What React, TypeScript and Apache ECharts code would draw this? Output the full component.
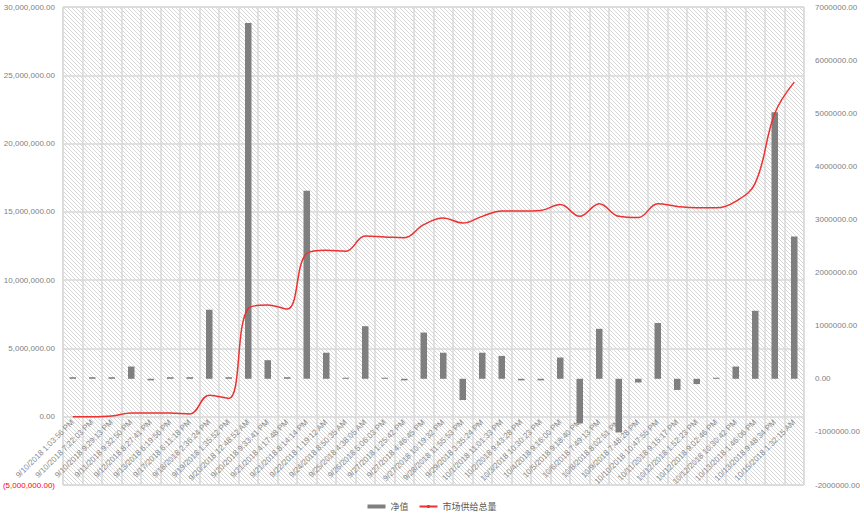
import React, { useEffect, useRef } from "react";
import * as echarts from "echarts";

const categories = [
  "9/10/2018 1:03:56 PM",
  "9/10/2018 7:22:03 PM",
  "9/10/2018 9:29:13 PM",
  "9/11/2018 9:32:50 PM",
  "9/12/2018 8:27:41 PM",
  "9/13/2018 6:19:56 PM",
  "9/17/2018 6:11:18 PM",
  "9/18/2018 2:36:24 PM",
  "9/19/2018 1:35:52 PM",
  "9/20/2018 12:48:52 AM",
  "9/20/2018 9:33:41 PM",
  "9/21/2018 4:17:48 PM",
  "9/21/2018 8:14:14 PM",
  "9/22/2018 1:19:12 AM",
  "9/24/2018 8:50:35 AM",
  "9/25/2018 4:38:05 AM",
  "9/26/2018 5:06:03 PM",
  "9/27/2018 1:25:42 PM",
  "9/27/2018 4:46:45 PM",
  "9/27/2018 10:19:32 PM",
  "9/28/2018 11:55:53 PM",
  "9/29/2018 3:35:24 PM",
  "10/1/2018 11:01:33 PM",
  "10/2/2018 9:43:28 PM",
  "10/3/2018 10:30:23 PM",
  "10/4/2018 9:16:00 PM",
  "10/5/2018 9:18:40 PM",
  "10/6/2018 7:49:13 PM",
  "10/8/2018 8:02:51 PM",
  "10/9/2018 7:48:28 PM",
  "10/10/2018 10:47:55 PM",
  "10/11/2018 9:15:17 PM",
  "10/12/2018 1:52:23 PM",
  "10/12/2018 9:02:46 PM",
  "10/12/2018 10:30:42 PM",
  "10/13/2018 1:46:06 PM",
  "10/13/2018 9:48:34 PM",
  "10/15/2018 1:32:15 AM",
];

// 净值 (right axis)
const netValues = [
  30000, 30000, 30000, 230000, -30000, 30000, 30000, 1300000, 30000, 6700000,
  350000, 30000, 3540000, 490000, 20000, 990000, 20000, -30000, 870000, 490000,
  -400000, 490000, 430000, -30000, -30000, 400000, -840000, 940000, -1010000, -70000,
  1050000, -210000, -100000, 20000, 230000, 1280000, 5020000, 2680000,
];

// 市场供给总量 (left axis)
const supplyValues = [
  0, 0, 50000, 270000, 270000, 270000, 200000, 1580000, 1340000, 7930000,
  8180000, 7880000, 11950000, 12190000, 12120000, 13230000, 13160000, 13100000, 14060000, 14550000,
  14180000, 14670000, 15060000, 15060000, 15100000, 15530000, 14670000, 15600000, 14670000, 14580000,
  15600000, 15400000, 15300000, 15300000, 15770000, 17100000, 22200000, 24500000,
];

const leftTicks = { min: -5000000, max: 30000000, interval: 5000000 };
const rightTicks = { min: -2000000, max: 7000000, interval: 1000000 };

function makeHatch() {
  const size = 8;
  const c = document.createElement("canvas");
  c.width = size;
  c.height = size;
  const ctx = c.getContext("2d");
  if (ctx) {
    ctx.fillStyle = "#ffffff";
    ctx.fillRect(0, 0, size, size);
    ctx.strokeStyle = "#d2d2d2";
    ctx.lineWidth = 0.9;
    for (let x0 = -size; x0 <= size; x0 += 4) {
      ctx.beginPath();
      ctx.moveTo(x0, 0);
      ctx.lineTo(x0 + size, size);
      ctx.stroke();
    }
  }
  return c.toDataURL();
}

export default function App() {
  const ref = useRef<HTMLDivElement>(null);

  useEffect(() => {
    if (!ref.current) return;
    const chart = echarts.init(ref.current, undefined, { renderer: "svg" });
    const hatch = makeHatch();
    const numFont = "'Liberation Sans', Arial, sans-serif";

    chart.setOption({
      animation: false,
      backgroundColor: "#ffffff",
      grid: {
        left: 63,
        right: 60,
        top: 7,
        bottom: 29,
        containLabel: false,
        outerBoundsMode: "none",
        show: true,
        borderColor: "#d9d9d9",
        borderWidth: 1,
        backgroundColor: {
          image: hatch,
          repeat: "repeat",
          imageWidth: 8,
          imageHeight: 8,
        },
      },
      legend: {
        top: 497,
        left: "center",
        itemWidth: 18,
        itemHeight: 4,
        itemGap: 10,
        textStyle: {
          fontSize: 9,
          color: "#595959",
          fontFamily: "'Noto Sans CJK SC', sans-serif",
        },
        data: [
          { name: "净值", icon: "rect" },
          { name: "市场供给总量" },
        ],
      },
      xAxis: {
        type: "category",
        data: categories,
        boundaryGap: true,
        axisLine: { show: false, onZero: false },
        axisTick: { show: false },
        axisLabel: {
          interval: 0,
          rotate: 45,
          fontSize: 8,
          margin: -64,
          color: "#8c8c8c",
          fontFamily: numFont,
          hideOverlap: false,
        },
        splitLine: {
          show: true,
          interval: 0,
          lineStyle: { color: "#d9d9d9", width: 1.5 },
        },
      },
      yAxis: [
        {
          type: "value",
          position: "left",
          min: leftTicks.min,
          max: leftTicks.max,
          interval: leftTicks.interval,
          axisLine: { show: false },
          axisTick: { show: false },
          splitLine: { show: true, lineStyle: { color: "#d9d9d9", width: 1.5 } },
          axisLabel: {
            fontSize: 8,
            margin: 8,
            fontFamily: numFont,
            color: (v: any) => (Number(v) < 0 ? "#ff0000" : "#808080"),
            formatter: (v: number) => {
              const s = Math.abs(v).toLocaleString("en-US", {
                minimumFractionDigits: 2,
                maximumFractionDigits: 2,
              });
              return v < 0 ? "(" + s + ")" : s;
            },
          },
        },
        {
          type: "value",
          position: "right",
          min: rightTicks.min,
          max: rightTicks.max,
          interval: rightTicks.interval,
          axisLine: { show: false },
          axisTick: { show: false },
          splitLine: { show: false },
          axisLabel: {
            fontSize: 8,
            margin: 11,
            fontFamily: numFont,
            color: "#808080",
            formatter: (v: number) => v.toFixed(2),
          },
        },
      ],
      series: [
        {
          name: "净值",
          type: "bar",
          yAxisIndex: 1,
          data: netValues,
          barWidth: 6.5,
          itemStyle: { color: "#7f7f7f" },
        },
        {
          name: "市场供给总量",
          type: "line",
          yAxisIndex: 0,
          data: supplyValues,
          smooth: 0.4,
          symbol: "none",
          lineStyle: { color: "#ee3030", width: 1.5 },
          itemStyle: { color: "#ee3030" },
          z: 3,
        },
      ],
    });

    return () => {
      chart.dispose();
    };
  }, []);

  return (
    <div
      ref={ref}
      style={{ position: "fixed", left: 0, top: 0, width: 864, height: 514 }}
    />
  );
}
